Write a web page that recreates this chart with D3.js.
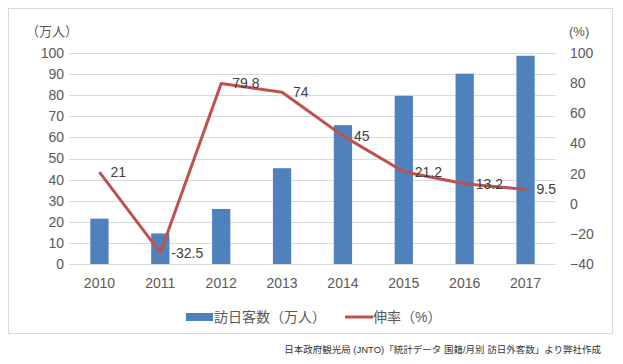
<!DOCTYPE html>
<html><head><meta charset="utf-8">
<script src="https://cdn.jsdelivr.net/npm/d3@7"></script>
<style>body{margin:0;background:#fff;} text{font-family:"Liberation Sans","Noto Sans CJK JP",sans-serif;}</style>
</head><body>
<svg id="c" width="623" height="364"></svg>
<script>
const years = ["2010","2011","2012","2013","2014","2015","2016","2017"];
const visitors = [21.5, 14.5, 26.1, 45.4, 65.8, 79.7, 90.2, 98.7];
const growth = [21, -32.5, 79.8, 74, 45, 21.2, 13.2, 9.5];
const leftTicks = [0,10,20,30,40,50,60,70,80,90,100];
const rightTicks = [-40,-20,0,20,40,60,80,100];
const seriesNames = ["訪日客数（万人）", "伸率（%）"];
const leftUnit = "（万人）", rightUnit = "(%)";
const source = "日本政府観光局 (JNTO)「統計データ 国籍/月別 訪日外客数」より弊社作成";

const svg = d3.select("#c");
const blue = "#4F81BD", red = "#C0504D", grid = "#D9D9D9", axisCol = "#595959";
svg.append("rect").attr("x",8.5).attr("y",8.5).attr("width",604).attr("height",325)
  .attr("fill","#fff").attr("stroke",grid);

const x = d3.scaleBand().domain(years).range([69,556]).paddingInner(0.7).paddingOuter(0.35);
const xc = d3.scaleBand().domain(years).range([69,556]);
const yL = d3.scaleLinear().domain([0,100]).range([264,53]);
const yR = d3.scaleLinear().domain([-40,100]).range([264,53]);

// gridlines
svg.append("g").selectAll("line").data(leftTicks).join("line")
  .attr("x1",69).attr("x2",556).attr("y1",d=>Math.round(yL(d))+0.5).attr("y2",d=>Math.round(yL(d))+0.5)
  .attr("stroke",grid);

// left axis
const gl = svg.append("g").attr("transform","translate(69,0)")
  .call(d3.axisLeft(yL).tickValues(leftTicks).tickSize(0).tickPadding(5));
gl.select(".domain").remove();
gl.selectAll("text").attr("fill",axisCol).style("font-size","14px");
// right axis
const gr = svg.append("g").attr("transform","translate(556,0)")
  .call(d3.axisRight(yR).tickValues(rightTicks).tickSize(0).tickPadding(14));
gr.select(".domain").remove();
gr.selectAll("text").attr("fill",axisCol).style("font-size","14px");
// x axis
const gx = svg.append("g").attr("transform","translate(0,264)")
  .call(d3.axisBottom(xc).tickSize(0).tickPadding(14));
gx.select(".domain").remove();
gx.selectAll("text").attr("fill",axisCol).style("font-size","14px");

svg.append("text").attr("x",26).attr("y",36).attr("fill",axisCol).style("font-size","13px").text(leftUnit);
svg.append("text").attr("x",569).attr("y",36).attr("fill",axisCol).style("font-size","13px").text(rightUnit);

// bars
svg.append("g").selectAll("rect").data(years).join("rect")
  .attr("x",d=>x(d)).attr("width",x.bandwidth())
  .attr("y",(d,i)=>yL(visitors[i])).attr("height",(d,i)=>yL(0)-yL(visitors[i]))
  .attr("fill",blue);

// line
const line = d3.line().x((d,i)=>xc(years[i])+xc.bandwidth()/2).y(d=>yR(d));
svg.append("path").datum(growth).attr("d",line).attr("fill","none")
  .attr("stroke",red).attr("stroke-width",3).attr("stroke-linejoin","round");

svg.append("g").selectAll("text").data(growth).join("text")
  .attr("x",(d,i)=>xc(years[i])+xc.bandwidth()/2+11)
  .attr("y",d=>yR(d)).attr("dy","0.35em")
  .attr("fill","#404040").style("font-size","14px").text(d=>d);

// legend
svg.append("rect").attr("x",186).attr("y",313).attr("width",27).attr("height",8).attr("fill",blue);
svg.append("text").attr("x",214).attr("y",317).attr("dy","0.35em").attr("fill",axisCol).style("font-size","14px").text(seriesNames[0]);
svg.append("line").attr("x1",345).attr("x2",373).attr("y1",317).attr("y2",317).attr("stroke",red).attr("stroke-width",3);
svg.append("text").attr("x",373).attr("y",317).attr("dy","0.35em").attr("fill",axisCol).style("font-size","14px").text(seriesNames[1]);

svg.append("text").attr("x",601).attr("y",350).attr("dy","0.35em").attr("text-anchor","end")
  .attr("fill","#333").style("font-size","9.5px").text(source);
</script>
</body></html>
